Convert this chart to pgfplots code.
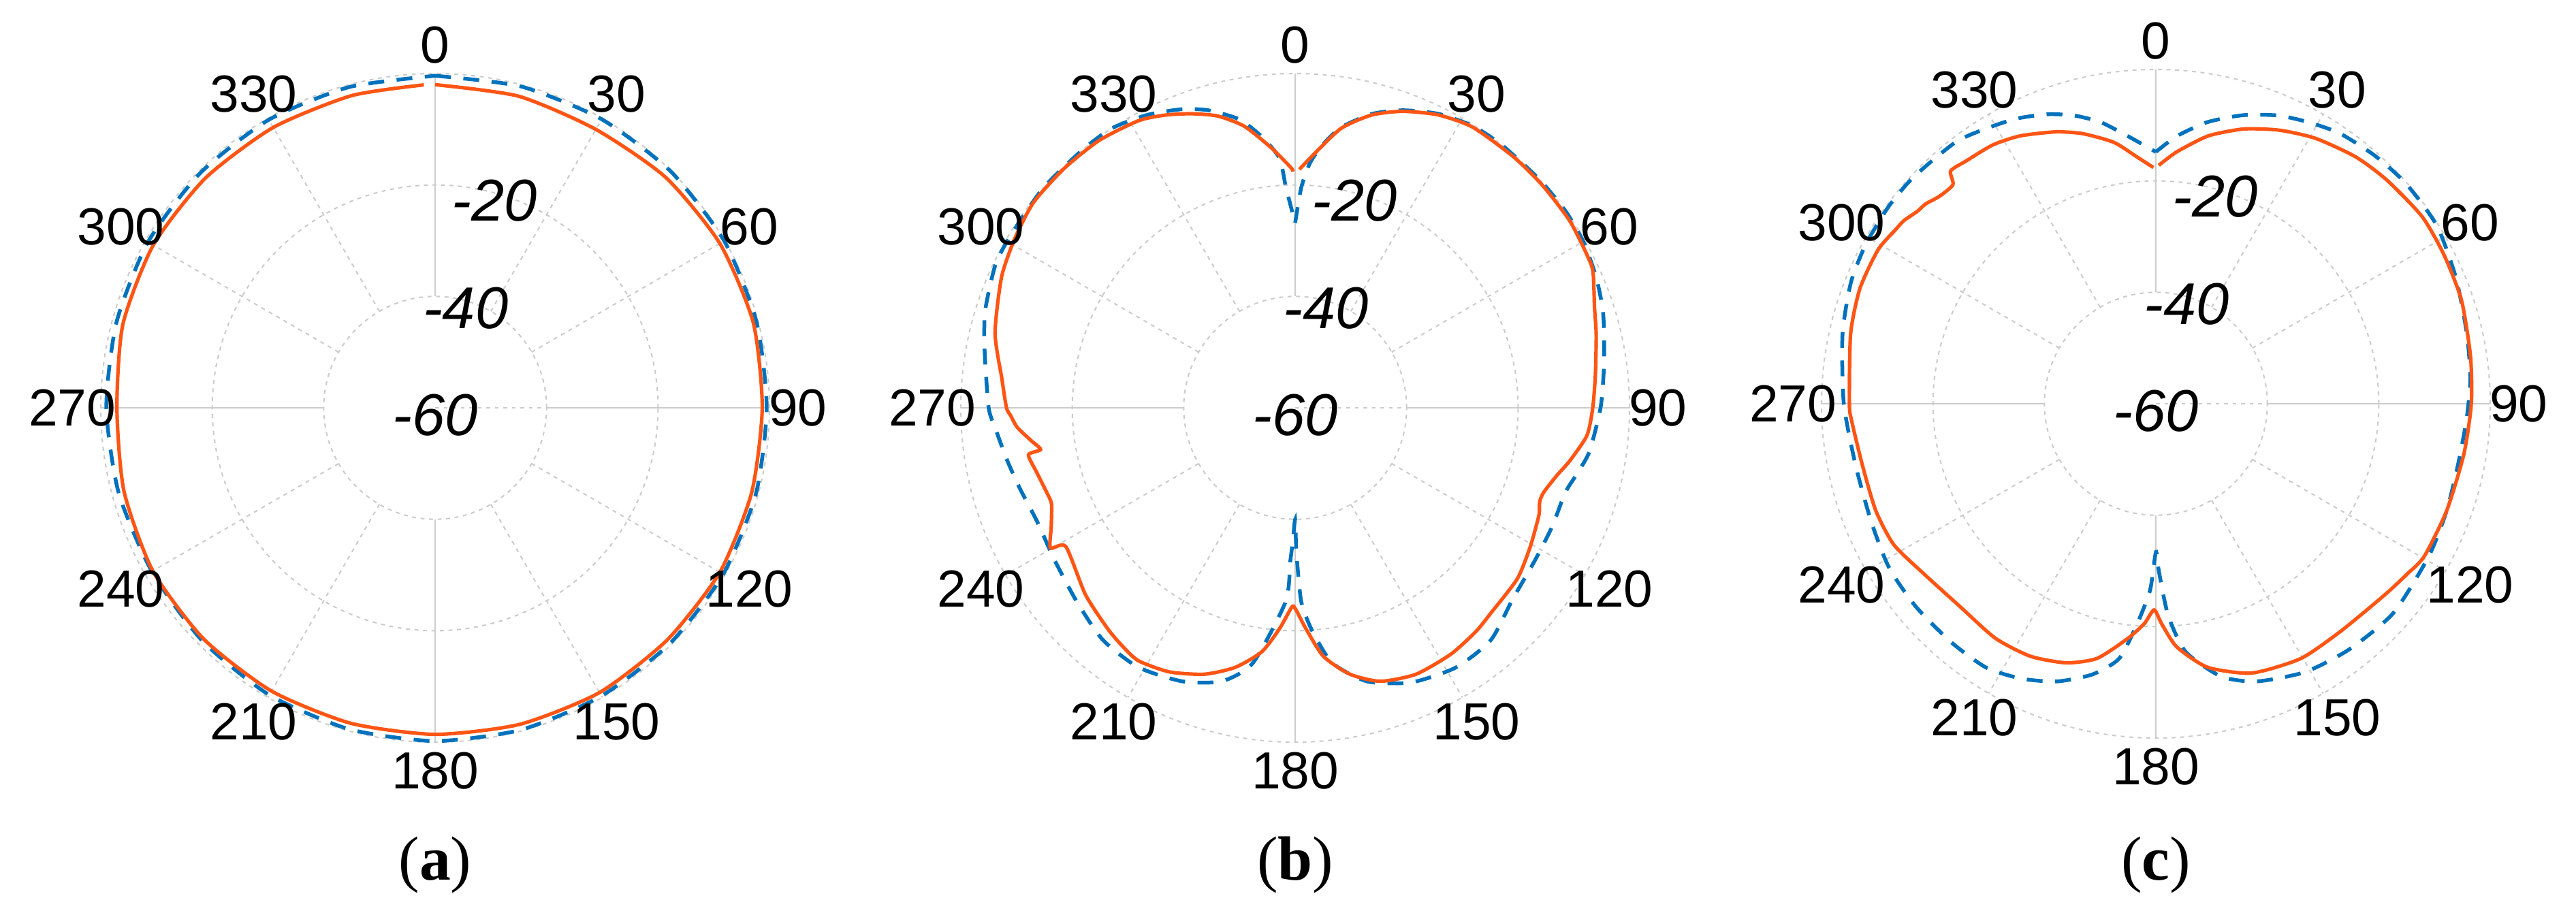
\documentclass[border=0pt]{standalone}
\usepackage{fontspec}
\setmainfont{Liberation Serif}
\newfontfamily\arial{Liberation Sans}
\usepackage{pgfplots}
\pgfplotsset{compat=1.18}
\usepackage{pgfplotstable}
\usepgfplotslibrary{polar}

\definecolor{meas}{RGB}{255,85,20}
\definecolor{sim}{RGB}{0,114,189}

% compass angle a (deg, clockwise from top), level r (dB)
\pgfplotstableread{
a r
0 -2.0
15 -2.1
30 -2.3
45 -1.5
60 -1.0
75 -0.9
90 -1.3
105 -1.2
120 -1.0
135 -1.1
150 -1.0
165 -1.2
180 -1.4
195 -1.4
210 -1.3
225 -1.3
240 -1.5
255 -2.2
270 -2.9
285 -2.0
300 -1.6
315 -1.7
330 -1.9
345 -2.0
358 -2.0
}\ameas
\pgfplotstableread{
a r
0 -0.4
15 -0.3
30 -0.2
45 -0.1
60 -0.1
75 -0.3
90 -0.5
105 -0.4
120 -0.3
135 -0.3
150 -0.3
165 -0.2
180 -0.2
195 -0.3
210 -0.5
225 -0.9
240 -1.3
255 -1.2
270 -1.0
285 -0.8
300 -0.5
315 -0.4
330 -0.3
345 -0.4
360 -0.4
}\asim
\pgfplotstableread{
a r
1 -17.2
4.4 -14.2
9.3 -9.2
14.6 -5.7
19.9 -3.4
26 -1.5
32.3 -0.4
41 -0.3
48 -0.3
56 -0.4
64.3 -1.0
68 -2.2
71.3 -3.3
76.3 -4.4
83.7 -5.8
90 -6.6
95.4 -7.4
100.9 -9.8
104.5 -11.5
108.8 -12.9
111 -13.0
113.8 -12.2
120.6 -11.0
127.6 -9.7
136.4 -9.1
141 -8.4
147.7 -7.7
155.6 -7.5
162.7 -8.6
168.4 -11.2
173.5 -15.1
177.2 -20.3
180 -24.0
181 -24.2
184.1 -20.2
187.8 -15.8
193 -12.2
198.8 -9.5
205.5 -7.5
211.8 -6.6
216 -7.2
220.3 -8.0
228.3 -9.6
238.8 -11.9
240.2 -9.4
244 -11.3
248.5 -13.0
251.2 -12.9
256 -12.2
260 -11.4
260.7 -13.7
263 -12.2
266 -10.0
268.5 -8.9
270 -8.2
275.7 -7.1
284 -4.5
294.1 -2.3
301.3 -1.2
308.2 -0.3
316.1 -0.3
323.8 -0.5
331.4 -1.3
336 -2.5
340.5 -4.0
345.1 -5.8
349.7 -8.6
354.6 -13.0
358.9 -16.8
359.5 -17.6
}\bmeas
\pgfplotstableread{
a r
0 -26.8
1.6 -20.4
3.5 -15.9
6 -12.5
9.3 -9.0
14.6 -5.5
19.9 -3.2
26 -1.3
32.3 -0.2
38.4 0
47 0
54 0
60 -0.3
66.4 -1.1
72 -2.0
76.6 -3.0
83 -4.2
90 -5.2
98.4 -6.6
103 -8.0
107.4 -9.2
114.8 -9.2
122.5 -9.0
131.4 -8.0
139.9 -5.5
148.3 -5.2
157.1 -6.5
165.2 -9.2
171.7 -13.7
175.6 -19.8
178.2 -25.2
179.5 -34.0
180 -40.0
181 -36.0
181.8 -32.6
182.8 -25.2
189.4 -13.6
195 -9.2
202.4 -6.9
211.1 -5.6
219.6 -5.9
228.4 -7.6
237.6 -8.9
246.2 -9.4
253.8 -8.5
260 -7.4
266 -6.1
270 -5.0
280.6 -3.3
287.4 -1.7
295.5 -0.4
301.2 -0.3
311 0
320.4 0
326.7 0
333.2 -1.1
339.3 -2.7
343.8 -4.4
349.1 -7.3
353 -11.0
356.4 -15.1
357.6 -20.4
360 -26.8
}\bsim
\pgfplotstableread{
a r
0.7 -17.2
4.8 -14.6
11.1 -11.0
17.8 -8.2
24.4 -6.1
31.1 -4.4
39 -3.0
45.9 -2.3
54.9 -1.6
62.7 -1.8
71.3 -2.1
81.4 -2.9
90 -3.4
99.3 -4.0
110.2 -4.4
119.6 -4.6
124 -5.5
129.9 -6.5
140.9 -7.4
150.4 -7.4
160.4 -8.7
168.9 -11.8
175.1 -16.2
178.5 -20.5
180.5 -23.0
183 -20.5
186.8 -17.6
193 -13.1
199.1 -10.8
206.4 -9.4
214.4 -9.0
224 -9.4
233.6 -8.4
241.7 -6.6
249.1 -6.2
258 -6.2
266.9 -5.3
270 -5.0
282.9 -3.8
291.3 -3.0
299 -3.0
303.8 -3.8
306 -4.1
308.9 -5.0
311 -5.3
313.8 -6.2
317.2 -6.4
318.6 -4.3
322 -4.7
327.8 -5.1
333.1 -6.1
339.8 -8.0
344.9 -9.8
350.9 -12.5
355.5 -15.5
359.4 -17.6
}\cmeas
\pgfplotstableread{
a r
0 -14.8
4.5 -11.8
10.4 -8.6
16.8 -5.9
23 -3.8
28.6 -2.5
34.3 -1.3
41.6 -0.6
48.7 -0.2
57.6 -0.3
67.2 -1.6
77.3 -2.8
85.5 -3.4
93 -4.2
101.6 -4.7
110.2 -4.4
119.2 -3.9
131.4 -3.2
141.8 -3.9
150.9 -4.9
160.1 -7.0
166.6 -9.7
173.2 -15.2
176.7 -22.0
179 -30.0
180 -33.4
181.8 -26.5
184.9 -20.3
188.2 -13.8
193.2 -10.1
199.6 -7.1
206 -5.1
212.7 -3.7
220.6 -3.6
229.8 -3.6
238.4 -3.8
247.4 -4.7
258.3 -5.0
270 -4.0
282.5 -2.4
291.7 -1.1
298.8 -0.6
306.2 -0.4
311.9 -0.4
317.1 -0.7
323 -0.9
328 -1.9
333.8 -3.0
339.4 -4.5
344.1 -6.2
348.9 -8.5
354 -11.7
360 -14.8
}\csim

\pgfplotsset{
  pat/.style={
    width=117.84pt, height=117.84pt, scale only axis,
    anchor=center, clip=false,
    xmin=0, xmax=360, ymin=0, ymax=60,
    xtick=\empty, ytick={20,40}, yticklabels={},
    ymajorgrids,
    major grid style={gray!40, line width=0.25pt, dash pattern=on 0.7pt off 0.8pt},
    axis line style={gray!40, line width=0.25pt, dash pattern=on 0.7pt off 0.8pt},
    tick style={draw=none},
  },
  measline/.style={color=meas, line width=0.62pt, smooth, tension=0.4},
  simline/.style={color=sim, line width=0.66pt, dash pattern=on 2.8pt off 2.2pt, smooth, tension=0.4},
}
\tikzset{
  spk/.style={gray!40, line width=0.25pt, dash pattern=on 0.7pt off 0.8pt},
  spkmain/.style={gray!40, line width=0.3pt},
  lab/.style={font=\arial\fontsize{9.2}{11}\selectfont, inner sep=0pt},
  rlab/.style={font=\arial\itshape\fontsize{10.4}{12}\selectfont, inner sep=0pt},
}

% grid spokes and all labels, in axis coordinates (math angle = 90 - compass)
\newcommand{\polardeco}{%
  \pgfplotsinvokeforeach{60,30,-30,-60,-120,-150,150,120}{%
    \draw[spk] (axis cs:##1,20) -- (axis cs:##1,60);}
  \pgfplotsinvokeforeach{90,0,-90,180}{%
    \draw[spkmain] (axis cs:##1,20) -- (axis cs:##1,60);}
}
\newcommand{\polarlabels}{%
  \node[lab] at (axis cs:90,65.1) {0};
  \node[lab] at (axis cs:60,65.1) {30};
  \node[lab] at (axis cs:30,65.1) {60};
  \node[lab] at (axis cs:0,65.1) {90};
  \node[lab] at (axis cs:-30,65.1) {120};
  \node[lab] at (axis cs:-60,65.1) {150};
  \node[lab] at (axis cs:-90,65.1) {180};
  \node[lab] at (axis cs:-120,65.1) {210};
  \node[lab] at (axis cs:-150,65.1) {240};
  \node[lab] at (axis cs:180,65.1) {270};
  \node[lab] at (axis cs:150,65.1) {300};
  \node[lab] at (axis cs:120,65.1) {330};
  \node[rlab] at (axis cs:74,38.7) {-20};
  \node[rlab] at (axis cs:73,18.7) {-40};
  \node[rlab] at (axis cs:-90,1.3) {-60};
}

\begin{document}
\begin{tikzpicture}
\path (0pt,0pt) rectangle (453.96pt,-160.8pt);

\begin{polaraxis}[pat, at={(76.68pt,-71.88pt)}]
  \polardeco
  \addplot[simline] table[x expr=90-\thisrow{a}, y expr=\thisrow{r}+60] {\asim};
  \addplot[measline] table[x expr=90-\thisrow{a}, y expr=\thisrow{r}+60] {\ameas};
  \polarlabels
\end{polaraxis}

\begin{polaraxis}[pat, at={(228.24pt,-71.88pt)}]
  \polardeco
  \addplot[simline] table[x expr=90-\thisrow{a}, y expr=\thisrow{r}+60] {\bsim};
  \addplot[measline] table[x expr=90-\thisrow{a}, y expr=\thisrow{r}+60] {\bmeas};
  \polarlabels
\end{polaraxis}

\begin{polaraxis}[pat, at={(379.92pt,-71.16pt)}]
  \polardeco
  \addplot[simline] table[x expr=90-\thisrow{a}, y expr=\thisrow{r}+60] {\csim};
  \addplot[measline] table[x expr=90-\thisrow{a}, y expr=\thisrow{r}+60] {\cmeas};
  \polarlabels
\end{polaraxis}

\node[font=\fontsize{11}{13}\selectfont] at (76.68pt,-152.4pt) {(\textbf{a})};
\node[font=\fontsize{11}{13}\selectfont] at (228.24pt,-152.4pt) {(\textbf{b})};
\node[font=\fontsize{11}{13}\selectfont] at (379.92pt,-152.4pt) {(\textbf{c})};
\end{tikzpicture}
\end{document}
